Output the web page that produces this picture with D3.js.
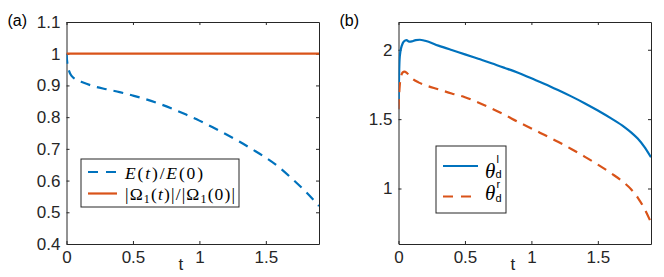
<!DOCTYPE html>
<html>
<head>
<meta charset="utf-8">
<script src="https://cdn.jsdelivr.net/npm/d3@7"></script>
<style>
body { margin: 0; background: #fff; }
svg { display: block; }
.tick text { font-family: "Liberation Sans", Arial, sans-serif; font-size: 17px; fill: #262626; }
.tick line, .domain { stroke: #262626; }
</style>
</head>
<body>
<svg id="chart" width="664" height="277"></svg>
<script>
// panel (a)
var tE = [0, 0.005, 0.01, 0.02, 0.03, 0.05, 0.08, 0.12, 0.2, 0.3, 0.4, 0.5, 0.6, 0.7, 0.8, 0.9, 1.0, 1.1, 1.2, 1.3, 1.4, 1.5, 1.6, 1.7, 1.8, 1.9];
var energy = [1.0, 0.975, 0.96, 0.945, 0.935, 0.925, 0.917, 0.91, 0.898, 0.888, 0.879, 0.868, 0.856, 0.842, 0.826, 0.808, 0.789, 0.768, 0.746, 0.723, 0.698, 0.672, 0.642, 0.605, 0.565, 0.52];
var tOmega = [0, 1.9];
var omega = [1, 1];

// panel (b)
var tL = [0, 0.003, 0.008, 0.015, 0.025, 0.04, 0.06, 0.08, 0.1, 0.13, 0.16, 0.2, 0.3, 0.4, 0.5, 0.6, 0.7, 0.8, 0.9, 1.0, 1.1, 1.2, 1.3, 1.4, 1.5, 1.6, 1.7, 1.75, 1.8, 1.85, 1.9];
var thetaL = [1.571, 1.75, 1.93, 1.99, 2.03, 2.06, 2.07, 2.058, 2.06, 2.07, 2.072, 2.065, 2.03, 1.998, 1.967, 1.935, 1.903, 1.869, 1.834, 1.794, 1.754, 1.71, 1.664, 1.615, 1.562, 1.505, 1.443, 1.405, 1.36, 1.30, 1.225];
var tR = [0, 0.005, 0.01, 0.02, 0.03, 0.045, 0.06, 0.08, 0.1, 0.15, 0.2, 0.3, 0.4, 0.5, 0.6, 0.7, 0.8, 0.9, 1.0, 1.1, 1.2, 1.3, 1.4, 1.5, 1.6, 1.7, 1.75, 1.8, 1.85, 1.9];
var thetaR = [1.571, 1.68, 1.75, 1.81, 1.835, 1.842, 1.835, 1.815, 1.795, 1.765, 1.745, 1.715, 1.685, 1.658, 1.62, 1.577, 1.53, 1.48, 1.433, 1.385, 1.337, 1.285, 1.23, 1.172, 1.11, 1.04, 0.995, 0.935, 0.855, 0.755];

var xTicks = [0, 0.5, 1, 1.5];
var yTicksA = [0.4, 0.5, 0.6, 0.7, 0.8, 0.9, 1, 1.1];
var yTicksB = [1, 1.5, 2];

var blue = "#0072BD", orange = "#D95319";
var svg = d3.select("#chart");

var zip = function(xs, ys) { return xs.map(function(x, i) { return [x, ys[i]]; }); };

var drawPanel = function(left, yDomain, yTicks, label)
{
    var box = {left: left, top: 22, width: 252.5, height: 222};
    var g = svg.append("g").attr("transform", "translate(" + box.left + "," + box.top + ")");
    var xScale = d3.scaleLinear().domain([0, 1.9]).range([0, box.width]);
    var yScale = d3.scaleLinear().domain(yDomain).range([box.height, 0]);

    g.append("g").attr("transform", "translate(0," + box.height + ")")
        .call(d3.axisBottom(xScale).tickValues(xTicks).tickSizeInner(-3).tickSizeOuter(0).tickPadding(7).tickFormat(d3.format("")));
    g.append("g").call(d3.axisTop(xScale).tickValues(xTicks).tickSizeInner(-3).tickSizeOuter(0).tickFormat(""));
    g.append("g").call(d3.axisLeft(yScale).tickValues(yTicks).tickSizeInner(-3).tickSizeOuter(0).tickPadding(6).tickFormat(d3.format("")));
    g.append("g").attr("transform", "translate(" + box.width + ",0)")
        .call(d3.axisRight(yScale).tickValues(yTicks).tickSizeInner(-3).tickSizeOuter(0).tickFormat(""));

    svg.append("text").attr("x", box.left - 59).attr("y", 26)
        .style("font-family", "Liberation Sans, Arial, sans-serif").style("font-size", "16px").attr("fill", "#000")
        .text(label);
    svg.append("text").attr("x", box.left + box.width / 2 - 12).attr("y", 270).attr("text-anchor", "middle")
        .style("font-family", "Liberation Sans, Arial, sans-serif").style("font-size", "17px").attr("fill", "#262626")
        .text("t");

    g.append("clipPath").attr("id", "clip" + label.charAt(1))
        .append("rect").attr("width", box.width).attr("height", box.height);
    var plot = g.append("g").attr("clip-path", "url(#clip" + label.charAt(1) + ")");
    var line = d3.line().curve(d3.curveMonotoneX)
        .x(function(d) { return xScale(d[0]); }).y(function(d) { return yScale(d[1]); });
    return {g: g, plot: plot, line: line};
};

var a = drawPanel(66.5, [0.4, 1.1], yTicksA, "(a)");
a.plot.append("path").datum(zip(tE, energy)).attr("d", a.line)
    .attr("fill", "none").attr("stroke", blue).attr("stroke-width", 2.2).attr("stroke-dasharray", "10,7");
a.plot.append("path").datum(zip(tOmega, omega)).attr("d", a.line)
    .attr("fill", "none").attr("stroke", orange).attr("stroke-width", 2.2);

var b = drawPanel(398.5, [0.6, 2.2], yTicksB, "(b)");
b.plot.append("path").datum(zip(tL, thetaL)).attr("d", b.line)
    .attr("fill", "none").attr("stroke", blue).attr("stroke-width", 2.2);
b.plot.append("path").datum(zip(tR, thetaR)).attr("d", b.line)
    .attr("fill", "none").attr("stroke", orange).attr("stroke-width", 2.2).attr("stroke-dasharray", "10,7");

// legend (a)
var serif = "Liberation Serif, 'Times New Roman', serif";
var lgA = svg.append("g");
lgA.append("rect").attr("x", 81).attr("y", 159).attr("width", 158).attr("height", 48)
    .attr("fill", "#fff").attr("stroke", "#262626").attr("stroke-width", 1);
lgA.append("line").attr("x1", 88).attr("x2", 117).attr("y1", 172).attr("y2", 172)
    .attr("stroke", blue).attr("stroke-width", 2.2).attr("stroke-dasharray", "10,8");
lgA.append("line").attr("x1", 88).attr("x2", 117).attr("y1", 193.5).attr("y2", 193.5)
    .attr("stroke", orange).attr("stroke-width", 2.2);

var mathText = function(parent, x, y, parts, width)
{
    var t = parent.append("text").attr("x", x).attr("y", y)
        .style("font-family", serif).style("font-size", "17.5px").attr("fill", "#000")
        .attr("textLength", width).attr("lengthAdjust", "spacing");
    parts.forEach(function(p) {
        var s = t.append("tspan").text(p[0]);
        if (p[1] == "i") s.style("font-style", "italic");
        if (p[1] == "sub") s.style("font-size", "12px").attr("dy", 3);
        if (p[1] == "back") s.attr("dy", -3);
    });
};
mathText(lgA, 125, 178.5, [["E", "i"], ["("], ["t", "i"], [")/"], ["E", "i"], ["(0)"]], 78);
mathText(lgA, 125, 199.5, [["|Ω"], ["1", "sub"], ["(", "back"], ["t", "i"], [")|/|Ω"], ["1", "sub"], ["(0)|", "back"]], 110);

// legend (b)
var lgB = svg.append("g");
lgB.append("rect").attr("x", 436).attr("y", 146).attr("width", 70).attr("height", 67)
    .attr("fill", "#fff").attr("stroke", "#262626").attr("stroke-width", 1);
lgB.append("line").attr("x1", 443).attr("x2", 478).attr("y1", 166).attr("y2", 166)
    .attr("stroke", blue).attr("stroke-width", 2.2);
lgB.append("line").attr("x1", 443).attr("x2", 478).attr("y1", 196.5).attr("y2", 196.5)
    .attr("stroke", orange).attr("stroke-width", 2.2).attr("stroke-dasharray", "10,8");

var thetaLabel = function(y, supY, subY, sup)
{
    lgB.append("text").attr("x", 485).attr("y", y)
        .style("font-family", serif).style("font-size", "21px").style("font-style", "italic").attr("fill", "#000")
        .text("θ");
    lgB.append("text").attr("x", 496.5).attr("y", supY)
        .style("font-family", "Liberation Sans, Arial, sans-serif").style("font-size", "11px").attr("fill", "#000")
        .text(sup);
    lgB.append("text").attr("x", 495.5).attr("y", subY)
        .style("font-family", "Liberation Sans, Arial, sans-serif").style("font-size", "11px").attr("fill", "#000")
        .text("d");
};
thetaLabel(177.5, 163, 177.5, "l");
thetaLabel(200, 188, 201.5, "r");
</script>
</body>
</html>
